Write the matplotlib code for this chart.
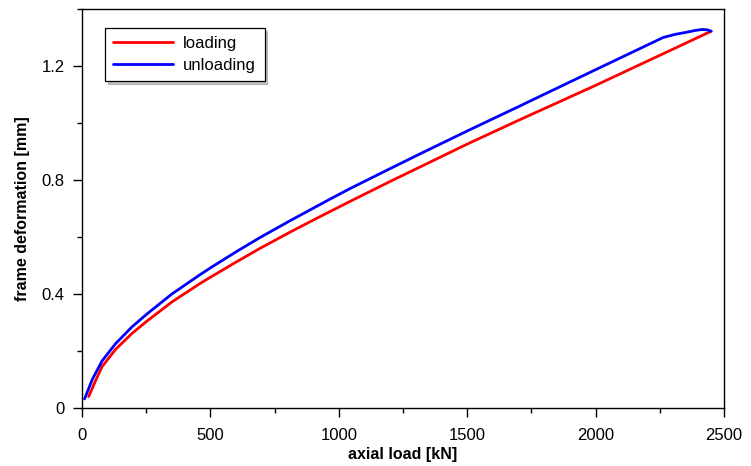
import matplotlib
matplotlib.use("Agg")
import matplotlib.pyplot as plt
from matplotlib.ticker import MultipleLocator

plt.rcParams['font.family'] = ['Liberation Sans', 'DejaVu Sans']

# loading branch (axial load kN, frame deformation mm)
load_x = [26, 50, 78, 130, 195, 253, 350, 460, 506, 600, 693, 810, 930, 1044,
          1200, 1317, 1500, 1706, 2000, 2263, 2450]
load_y = [0.04, 0.09, 0.145, 0.205, 0.262, 0.305, 0.372, 0.437, 0.462, 0.512,
          0.560, 0.617, 0.673, 0.725, 0.795, 0.846, 0.926, 1.012, 1.132, 1.243, 1.322]

# unloading branch
unload_x = [2450, 2435, 2414, 2390, 2357, 2310, 2263, 2000, 1745, 1706, 1500,
            1317, 1200, 1044, 966, 810, 693, 600, 506, 460, 350, 253, 195, 130,
            78, 40, 10]
unload_y = [1.322, 1.327, 1.328, 1.325, 1.319, 1.311, 1.300, 1.187, 1.077, 1.060,
            0.972, 0.892, 0.840, 0.770, 0.733, 0.657, 0.598, 0.548, 0.495, 0.468,
            0.400, 0.330, 0.285, 0.225, 0.165, 0.10, 0.032]

labels = ["loading", "unloading"]
x_ticks = [0, 500, 1000, 1500, 2000, 2500]
y_ticks = [0, 0.4, 0.8, 1.2]
y_ticklabels = ["0", "0.4", "0.8", "1.2"]

fig = plt.figure(figsize=(7.51, 4.66), dpi=100)
ax = fig.add_axes([82/751, 58/466, 642/751, 399/466])

ax.plot(load_x, load_y, color="#ff0000", lw=2.0, label=labels[0],
        solid_joinstyle="round", solid_capstyle="round")
ax.plot(unload_x, unload_y, color="#0000ff", lw=2.0, label=labels[1],
        solid_joinstyle="round", solid_capstyle="round")

ax.set_xlim(0, 2500)
ax.set_ylim(0, 1.4)
ax.set_xticks(x_ticks)
ax.set_yticks(y_ticks)
ax.set_yticklabels(y_ticklabels)
ax.xaxis.set_minor_locator(MultipleLocator(250))
ax.yaxis.set_minor_locator(MultipleLocator(0.2))
ax.tick_params(which="major", direction="out", length=6.5, width=1.0,
               labelsize=12, colors="black")
ax.tick_params(which="minor", direction="out", length=3.6, width=1.0)
ax.tick_params(axis="x", which="major", pad=8)
ax.tick_params(axis="y", which="major", pad=6)
for s in ax.spines.values():
    s.set_linewidth(1.0)

ax.set_xlabel("axial load [kN]", fontsize=11.5, fontweight="bold", labelpad=3)
ax.set_ylabel("frame deformation [mm]", fontsize=11.5, fontweight="bold", labelpad=8)

leg = ax.legend(loc="upper left", bbox_to_anchor=(23/642, 380/399),
                borderaxespad=0, fontsize=12, handlelength=3.6,
                handletextpad=0.6, labelspacing=0.4, borderpad=0.5,
                fancybox=False, edgecolor="black", framealpha=1,
                shadow={"color": "0.6", "alpha": 0.6})
leg.get_frame().set_linewidth(0.9)

fig.savefig("out.png", dpi=100)
